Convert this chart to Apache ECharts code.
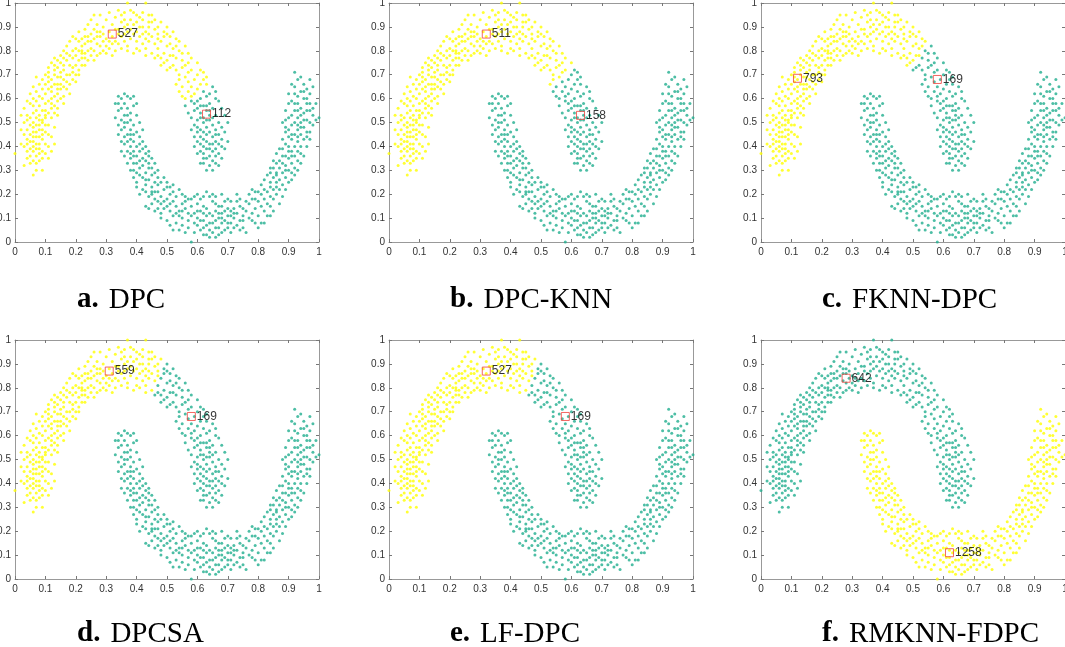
<!DOCTYPE html>
<html>
<head>
<meta charset="utf-8">
<script src="https://cdn.jsdelivr.net/npm/echarts@6/dist/echarts.min.js"></script>
<style>
  html, body { margin: 0; padding: 0; background: #fff; }
  #main { width: 1065px; height: 647px; }
</style>
</head>
<body>
<div id="main"></div>
<script>
// two-moons data set (shared by all six panels)
var upperMoon = [
  [.05,.42],[.06,.40],[.07,.44],[.04,.38],[.08,.47],[.05,.36],[.06,.46],[.07,.39],[.09,.43],[.03,.45],
  [.06,.34],[.08,.41],[.05,.49],[.07,.36],[.09,.50],[.04,.43],[.06,.38],[.10,.46],[.08,.37],[.05,.45],
  [.07,.49],[.03,.40],[.06,.42],[.09,.38],[.02,.47],[.05,.33],[.08,.44],[.11,.40],[.06,.50],[.04,.51],
  [.07,.41],[.10,.52],[.03,.32],[.06,.28],[.00,.37],[.11,.35],[.08,.34],[.05,.39],[.07,.46],[.09,.47],
  [.07,.52],[.09,.55],[.06,.54],[.10,.58],[.08,.57],[.11,.54],[.12,.60],[.09,.51],[.07,.59],[.13,.57],
  [.10,.62],[.08,.53],[.11,.64],[.12,.56],[.14,.62],[.06,.57],[.09,.60],[.13,.66],[.10,.55],[.15,.64],
  [.11,.59],[.08,.61],[.12,.63],[.04,.53],[.03,.50],[.14,.59],[.16,.58],[.07,.63],[.10,.66],[.13,.61],
  [.12,.68],[.14,.66],[.13,.70],[.15,.69],[.16,.72],[.11,.67],[.14,.73],[.17,.70],[.15,.75],[.18,.74],
  [.16,.68],[.13,.72],[.19,.77],[.17,.76],[.20,.78],[.15,.71],[.18,.70],[.21,.76],[.12,.65],[.14,.69],
  [.16,.77],[.19,.73],[.17,.79],[.20,.74],[.22,.80],[.18,.78],[.13,.74],[.11,.71],[.21,.72],[.15,.66],
  [.19,.80],[.23,.77],[.14,.64],[.16,.74],
  [.21,.80],[.22,.82],[.23,.79],[.24,.84],[.25,.81],[.22,.77],[.26,.85],[.24,.80],[.27,.83],[.28,.86],
  [.25,.87],[.23,.83],[.29,.84],[.27,.88],[.30,.85],[.26,.80],[.28,.82],[.31,.88],[.29,.90],[.32,.86],
  [.24,.86],[.30,.82],[.33,.89],[.27,.91],[.31,.84],[.21,.84],[.25,.78],[.28,.95],[.32,.91],[.34,.87],
  [.23,.86],[.30,.79],[.26,.89],[.33,.84],[.20,.81],[.29,.87],[.22,.74],[.35,.92],
  [.34,.89],[.35,.86],[.36,.90],[.37,.88],[.38,.85],[.36,.84],[.39,.91],[.40,.88],[.38,.93],[.41,.86],
  [.37,.82],[.42,.90],[.40,.84],[.43,.88],[.44,.92],[.39,.87],[.41,.94],[.42,.83],[.45,.86],[.44,.84],
  [.43,.81],[.46,.89],[.35,.95],[.38,.89],[.40,.81],[.45,.92],[.47,.85],[.36,.93],[.42,.87],[.34,.83],
  [.37,1.0],[.43,1.0],[.39,.96],[.46,.83],[.41,.90],[.44,.87],
  [.47,.81],[.48,.84],[.49,.79],[.50,.82],[.49,.86],[.51,.78],[.52,.81],[.50,.76],[.53,.77],[.48,.77],
  [.54,.80],[.52,.74],[.55,.76],[.51,.83],[.53,.72],[.56,.74],[.54,.70],[.55,.73],[.57,.71],[.52,.78],
  [.50,.87],[.56,.69],[.47,.78],[.53,.82],[.55,.79],[.49,.75],[.57,.75],[.54,.68],[.51,.73],[.58,.72],
  [.57,.67],[.58,.65],[.59,.68],[.60,.64],[.58,.61],[.61,.66],[.59,.62],[.60,.59],[.62,.63],[.61,.60],
  [.63,.61],[.57,.63],[.62,.57],[.60,.56],[.64,.58],[.61,.54],[.63,.55],[.59,.58],[.65,.56],[.62,.52],
  [.56,.60],[.64,.62],[.58,.59],[.66,.60],[.60,.70],[.63,.66],[.55,.65],[.62,.68],
  [.62,.50],[.63,.48],[.64,.51],[.61,.47],[.65,.49],[.63,.45],[.62,.43],[.64,.46],[.66,.47],[.63,.42],
  [.65,.44],[.62,.40],[.64,.41],[.66,.42],[.61,.44],[.63,.39],[.65,.38],[.64,.36],[.62,.37],[.66,.39],
  [.67,.45],[.60,.51],[.63,.35],[.65,.34],[.61,.38],[.68,.43],[.64,.32],[.67,.37],[.60,.42],[.66,.33],
  [.62,.46],[.64,.53],[.61,.52],[.68,.48],[.59,.49],[.67,.32],
  // outer / inner rim of the band
  [.02,.41],[.04,.47],[.06,.44],[.08,.39],[.10,.41],[.12,.44],[.11,.49],[.09,.45],[.07,.55],[.05,.52],
  [.03,.56],[.04,.35],[.07,.33],[.09,.35],[.10,.37],[.12,.38],[.13,.48],[.12,.52],[.10,.49],[.08,.51],
  [.06,.48],[.04,.41],[.13,.41],[.09,.30],[.07,.30],[.14,.53],[.02,.53],[.05,.58],[.11,.45],[.08,.49],
  [.04,.59],[.05,.62],[.06,.65],[.08,.66],[.09,.68],[.07,.69],[.10,.70],[.11,.73],[.12,.75],[.13,.77],
  [.15,.78],[.16,.80],[.14,.56],[.16,.61],[.17,.64],[.18,.66],[.19,.68],[.20,.70],[.15,.60],[.17,.67],
  [.12,.58],[.13,.54],[.18,.62],[.11,.69],[.09,.64],[.06,.60],[.14,.76],[.10,.53],[.16,.65],[.19,.71],
  [.17,.82],[.18,.84],[.19,.86],[.20,.85],[.21,.88],[.23,.89],[.24,.91],[.25,.93],[.22,.85],[.26,.76],
  [.27,.78],[.28,.79],[.29,.80],[.31,.81],[.33,.80],[.32,.78],[.24,.76],[.23,.74],[.21,.70],[.20,.67],
  [.30,.93],[.33,.94],[.31,.96],[.26,.95],[.34,.97],[.28,.88],[.25,.84],[.32,.83],[.22,.79],[.27,.86],
  [.36,.96],[.38,.97],[.40,.95],[.42,.96],[.44,.95],[.46,.93],[.48,.92],[.50,.90],[.52,.88],[.47,.90],
  [.45,.95],[.39,.79],[.41,.80],[.43,.78],[.45,.79],[.46,.77],[.37,.80],[.35,.81],[.48,.74],[.50,.72],
  [.44,.90],[.40,.92],[.37,.91],[.42,.93],[.49,.88],[.51,.86],[.53,.85],[.36,.87],[.43,.85],[.47,.87],
  [.54,.84],[.56,.82],[.57,.79],[.58,.77],[.60,.75],[.61,.72],[.62,.71],[.63,.69],[.65,.65],[.66,.63],
  [.67,.59],[.68,.56],[.69,.53],[.70,.50],[.69,.46],[.70,.42],[.69,.39],[.68,.35],[.53,.66],[.54,.63],
  [.55,.61],[.56,.57],[.57,.54],[.58,.52],[.58,.47],[.59,.44],[.59,.40],[.60,.37],[.61,.33],[.63,.30],
  [.65,.30],[.60,.46],[.66,.53],[.67,.50],[.64,.55],[.61,.57],[.65,.52],[.63,.57],[.59,.55],[.67,.41],
  [.66,.36],[.62,.33],[.64,.39],[.65,.41],[.61,.41],[.63,.51],[.66,.45],[.60,.48],[.62,.35],[.68,.40]
];
var lowerMoon = [
  [.35,.60],[.36,.58],[.34,.55],[.37,.56],[.36,.53],[.35,.51],[.37,.50],[.38,.54],[.36,.48],[.38,.47],
  [.37,.45],[.39,.49],[.35,.47],[.38,.43],[.39,.42],[.40,.46],[.36,.44],[.37,.42],[.40,.40],[.38,.40],
  [.33,.52],[.37,.61],[.39,.57],[.34,.58],[.38,.51],[.41,.44],[.36,.41],[.39,.45],[.35,.56],[.37,.53],
  [.39,.38],[.40,.36],[.41,.38],[.40,.33],[.42,.35],[.41,.31],[.42,.32],[.43,.34],[.41,.28],[.43,.29],
  [.44,.31],[.42,.27],[.44,.26],[.45,.28],[.43,.24],[.46,.25],[.45,.23],[.38,.35],[.39,.30],[.44,.36],
  [.46,.29],[.40,.25],[.42,.22],[.47,.24],[.41,.34],[.43,.37],[.39,.33],[.45,.21],[.38,.37],
  [.47,.21],[.48,.19],[.49,.22],[.48,.16],[.50,.18],[.51,.20],[.50,.15],[.52,.17],[.51,.13],[.53,.15],
  [.53,.19],[.54,.13],[.55,.16],[.54,.11],[.56,.14],[.55,.10],[.57,.12],[.56,.17],[.58,.15],[.57,.09],
  [.46,.18],[.49,.14],[.52,.11],[.45,.16],[.47,.14],[.43,.15],[.52,.21],[.58,.11],[.55,.07],[.50,.23],
  [.48,.12],[.53,.08],[.56,.19],
  [.59,.12],[.60,.10],[.61,.13],[.60,.07],[.62,.09],[.62,.15],[.63,.11],[.64,.08],[.63,.14],[.65,.11],
  [.64,.05],[.66,.09],[.66,.13],[.67,.10],[.67,.06],[.68,.12],[.69,.09],[.68,.15],[.70,.11],[.69,.05],
  [.71,.08],[.70,.14],[.72,.10],[.71,.13],[.58,.00],[.59,.04],[.61,.18],[.65,.17],[.63,.03],[.66,.02],
  [.61,.05],[.69,.17],[.72,.06],[.60,.16],[.64,.19],[.67,.15],[.62,.06],[.68,.08],
  [.73,.12],[.74,.09],[.74,.15],[.75,.11],[.76,.13],[.75,.06],[.77,.10],[.77,.16],[.78,.12],[.78,.18],
  [.79,.14],[.80,.11],[.80,.17],[.81,.15],[.81,.20],[.82,.13],[.82,.18],[.83,.21],[.83,.16],[.84,.19],
  [.84,.23],[.85,.18],[.85,.22],[.86,.25],[.76,.04],[.73,.17],[.79,.08],[.83,.11],[.86,.20],[.72,.14],
  [.77,.20],[.80,.21],[.84,.15],[.79,.18],[.74,.05],[.81,.08],
  [.86,.28],[.87,.26],[.87,.31],[.88,.29],[.88,.24],[.89,.32],[.89,.27],[.90,.35],[.90,.30],[.91,.38],
  [.89,.36],[.91,.33],[.92,.40],[.90,.40],[.92,.36],[.93,.42],[.91,.43],[.93,.38],[.85,.27],[.86,.33],
  [.88,.36],[.94,.40],[.87,.22],[.92,.45],[.84,.29],[.89,.41],[.91,.29],[.93,.34],[.90,.44],[.85,.31],
  [.88,.39],[.92,.31],
  [.93,.47],[.94,.45],[.94,.50],[.95,.48],[.93,.52],[.95,.54],[.96,.51],[.94,.56],[.96,.58],[.95,.60],
  [.97,.55],[.92,.55],[.93,.58],[.96,.46],[.97,.50],[.98,.53],[.95,.43],[.91,.49],[.92,.62],[.94,.63],
  [.90,.58],[.97,.62],[.98,.65],[.92,.71],[.91,.66],[.89,.51],[.96,.64],[.99,.58],[1.0,.52],[.93,.61],
  [.95,.66],[.97,.46],[.90,.47],[.92,.50],
  // outer / inner rim of the band
  [.33,.58],[.34,.61],[.36,.62],[.38,.60],[.39,.61],[.40,.58],[.40,.53],[.41,.50],[.42,.47],[.42,.42],
  [.43,.40],[.44,.38],[.45,.35],[.46,.33],[.47,.30],[.34,.49],[.34,.45],[.35,.42],[.35,.38],[.36,.36],
  [.37,.33],[.38,.30],[.39,.27],[.40,.23],[.41,.20],[.36,.50],[.38,.45],[.39,.36],[.41,.41],[.40,.29],
  [.42,.39],[.44,.33],[.37,.38],[.43,.26],[.45,.31],
  [.43,.21],[.44,.19],[.46,.21],[.47,.27],[.48,.25],[.49,.27],[.50,.25],[.51,.23],[.52,.24],[.54,.22],
  [.55,.20],[.57,.18],[.59,.19],[.44,.14],[.46,.13],[.48,.10],[.50,.09],[.51,.07],[.52,.05],[.54,.05],
  [.56,.04],[.57,.06],[.49,.17],[.51,.16],[.53,.12],[.55,.13],[.47,.17],[.59,.08],[.58,.18],[.45,.20],
  [.60,.20],[.62,.19],[.63,.21],[.65,.20],[.66,.19],[.68,.20],[.70,.18],[.71,.17],[.73,.20],[.74,.18],
  [.76,.17],[.62,.03],[.64,.02],[.65,.04],[.67,.03],[.68,.04],[.70,.06],[.71,.04],[.73,.07],[.75,.09],
  [.61,.09],[.63,.07],[.65,.08],[.66,.06],[.67,.12],[.69,.13],[.70,.08],[.72,.12],[.75,.14],[.78,.09],
  [.60,.13],[.64,.12],[.62,.12],[.66,.16],[.68,.10],[.71,.11],
  [.78,.22],[.79,.21],[.81,.24],[.82,.26],[.83,.28],[.84,.31],[.85,.34],[.86,.37],[.87,.39],[.88,.43],
  [.80,.06],[.82,.08],[.84,.11],[.85,.13],[.87,.16],[.88,.19],[.89,.22],[.90,.25],[.91,.26],[.92,.28],
  [.93,.30],[.94,.33],[.95,.36],[.96,.40],[.82,.22],[.84,.25],[.86,.29],[.87,.34],[.89,.30],[.91,.36],
  [.93,.44],[.90,.38],[.86,.23],[.88,.33],[.94,.37],
  [.89,.46],[.89,.55],[.90,.52],[.90,.62],[.91,.59],[.92,.65],[.93,.68],[.94,.69],[.95,.63],[.96,.60],
  [.97,.58],[.98,.56],[.98,.49],[.99,.51],[.97,.43],[.96,.44],[.91,.53],[.92,.58],[.94,.53],[.95,.51],
  [.93,.55],[.96,.55],[.94,.48],[.91,.45],[.97,.68],[.89,.48],[.88,.50],[.93,.49]
];

var panelLetters = ['a.', 'b.', 'c.', 'd.', 'e.', 'f.'];
var panelNames = ['DPC', 'DPC-KNN', 'FKNN-DPC', 'DPCSA', 'LF-DPC', 'RMKNN-FDPC'];
// where each method cuts the upper moon (angle in degrees, measured round the moon)
var splitAngle = [29, 40, 54, 66, 66, 999];
var lowerIsYellow = [false, false, false, false, false, true];
var centerPoints = [
  [[0.32, 0.87], [0.63, 0.535]],
  [[0.32, 0.87], [0.63, 0.53]],
  [[0.12, 0.685], [0.58, 0.68]],
  [[0.31, 0.87], [0.58, 0.68]],
  [[0.32, 0.87], [0.58, 0.68]],
  [[0.28, 0.84], [0.62, 0.11]]
];
var centerIds = [[527, 112], [511, 158], [793, 169], [559, 169], [527, 169], [642, 1258]];

var YELLOW = '#ffff00';
var GREEN = '#21ae8e';

var myChart = echarts.init(document.getElementById('main'));

var lefts = [15, 389, 761];
var tops = [3, 340];
var grids = [], xAxes = [], yAxes = [], series = [], titles = [];

function angleOf(p) {
  var u = (p[0] - 0.35) / 0.3, v = (p[1] - 0.4) / 0.48;
  var a = Math.atan2(v, u) * 180 / Math.PI;
  if (a < -90) a += 360; // left tail of the moon stays on the far side
  return a;
}
function fmt(v) { return String(+v.toFixed(1)); }

for (var i = 0; i < 6; i++) {
  var col = i % 3, row = Math.floor(i / 3);
  grids.push({ left: lefts[col], top: tops[row], width: 304, height: 239, outerBoundsMode: 'none', containLabel: false });

  var axisBase = {
    min: 0, max: 1, interval: 0.1, gridIndex: i, type: 'value',
    axisLine: { show: true, onZero: false, lineStyle: { color: '#999', width: 1 } },
    axisTick: { show: true, inside: true, length: 3, lineStyle: { color: '#777' } },
    splitLine: { show: false }
  };
  xAxes.push(Object.assign({}, axisBase, {
    position: 'bottom',
    axisLabel: { show: true, margin: 5, fontSize: 10, color: '#333', fontFamily: 'Liberation Sans, Arial', formatter: fmt }
  }));
  xAxes.push(Object.assign({}, axisBase, { position: 'top', axisLabel: { show: false } }));
  yAxes.push(Object.assign({}, axisBase, {
    position: 'left',
    axisLabel: { show: true, margin: 4, fontSize: 10, color: '#333', fontFamily: 'Liberation Sans, Arial', formatter: fmt }
  }));
  yAxes.push(Object.assign({}, axisBase, { position: 'right', axisLabel: { show: false } }));

  var yellowPts = [], greenPts = [];
  upperMoon.forEach(function (p) {
    if (angleOf(p) < splitAngle[i]) greenPts.push(p); else yellowPts.push(p);
  });
  lowerMoon.forEach(function (p) {
    if (lowerIsYellow[i]) yellowPts.push(p); else greenPts.push(p);
  });

  series.push({
    type: 'scatter', xAxisIndex: 2 * i, yAxisIndex: 2 * i, data: yellowPts,
    symbol: 'circle', symbolSize: 3, itemStyle: { color: YELLOW }, silent: true
  });
  series.push({
    type: 'scatter', xAxisIndex: 2 * i, yAxisIndex: 2 * i, data: greenPts,
    symbol: 'circle', symbolSize: 3, itemStyle: { color: GREEN }, silent: true
  });
  series.push({
    type: 'scatter', xAxisIndex: 2 * i, yAxisIndex: 2 * i, z: 5,
    data: centerPoints[i].map(function (p, k) { return [p[0], p[1], centerIds[i][k]]; }),
    symbol: 'rect', symbolSize: 8,
    itemStyle: { color: 'rgba(0,0,0,0)', borderColor: '#f0413b', borderWidth: 1 },
    label: {
      show: true, position: 'right', distance: 1, fontSize: 12, color: '#000',
      fontFamily: 'Liberation Sans, Arial',
      formatter: function (d) { return String(d.value[2]); }
    }
  });

  titles.push({
    left: [77, 450, 822][col], top: [283, 617][row], padding: 0,
    text: '{b|' + panelLetters[i] + '}  {n|' + panelNames[i] + '}',
    textStyle: {
      rich: {
        b: { fontWeight: 'bold', fontSize: 29, lineHeight: 34, color: '#000', fontFamily: 'Liberation Serif, Times New Roman, serif' },
        n: { fontWeight: 'normal', fontSize: 29, lineHeight: 34, color: '#000', fontFamily: 'Liberation Serif, Times New Roman, serif' }
      }
    }
  });
}

var option = {
  animation: false,
  backgroundColor: '#fff',
  title: titles,
  grid: grids,
  xAxis: xAxes,
  yAxis: yAxes,
  series: series
};

myChart.setOption(option);
window.addEventListener('resize', function () {
  myChart.resize();
});
</script>
</body>
</html>
